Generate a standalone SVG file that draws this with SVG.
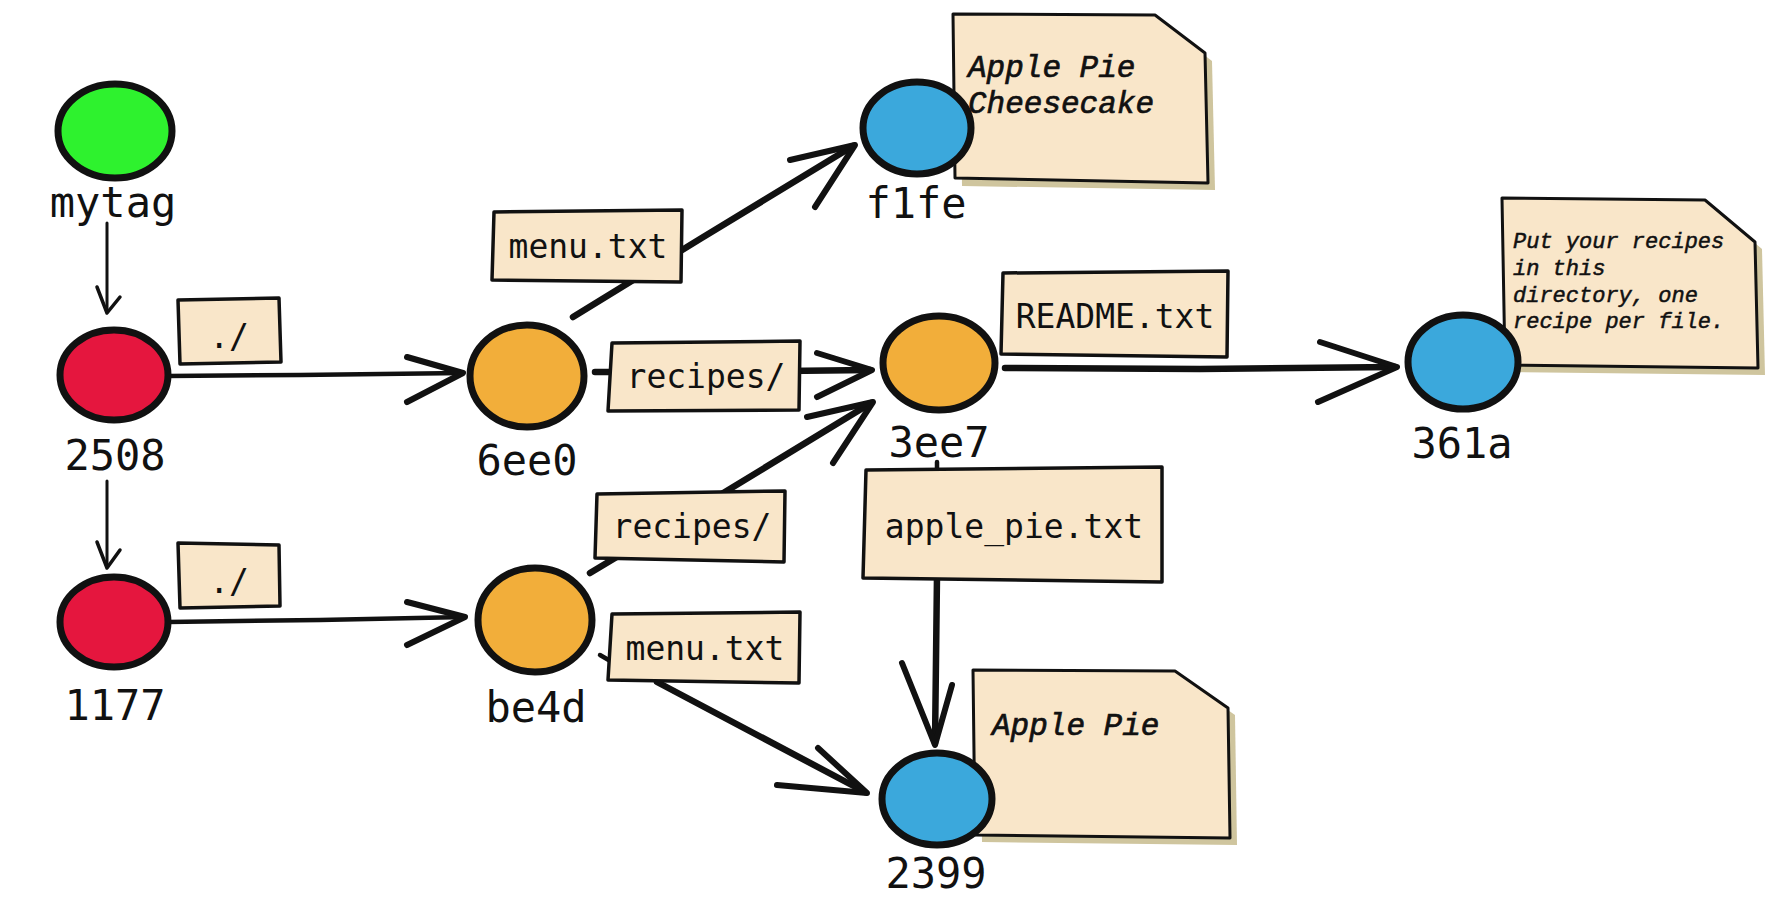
<svg xmlns="http://www.w3.org/2000/svg" width="1790" height="910" viewBox="0 0 1790 910">
<style>
.bg{fill:#ffffff}
.node{stroke:#111;stroke-width:7}
.green{fill:#2EF22E}
.red{fill:#E5163E}
.orange{fill:#F2AE3A}
.blue{fill:#3BA8DC}
.hash{font-family:"DejaVu Sans Mono","Liberation Mono",monospace;font-size:42px;fill:#111;text-anchor:middle}
.lbox{fill:#F9E6C9;stroke:#111;stroke-width:3.5;stroke-linejoin:round}
.ltext{font-family:"DejaVu Sans Mono","Liberation Mono",monospace;font-size:33px;fill:#111;text-anchor:middle}
.note{fill:#F9E6C9;stroke:#111;stroke-width:3;stroke-linejoin:round}
.shadow{fill:#CFC59E}
.ntext{font-family:"Liberation Mono","Courier New",monospace;font-style:italic;font-size:31px;fill:#111;stroke:#111;stroke-width:0.7}
.ntext.small{font-size:22px;stroke-width:0.5}
.edge{fill:none;stroke:#111;stroke-linecap:round;stroke-linejoin:round}
.thin{stroke-width:3}
.mid{stroke-width:4.5}
.thick{stroke-width:6.5}
.head{fill:none;stroke:#111;stroke-width:6;stroke-linecap:round;stroke-linejoin:round}
.head.thin{stroke-width:3.5}
</style>
<rect class="bg" x="0" y="0" width="1790" height="910"/>

<g id="connectors">
  <path class="edge thin" d="M107,223 L107,312"/>
  <path class="head thin" d="M97,287 L107,313 L120,297"/>
  <path class="edge thin" d="M107,481 L107,566"/>
  <path class="head thin" d="M97,542 L107,568 L120,550"/>
  <path class="edge mid" d="M168,376 L300,375 L463,373"/>
  <path class="head" d="M407,357 L463,373 L407,402"/>
  <path class="edge mid" d="M168,622 L320,620 L465,617"/>
  <path class="head" d="M407,602 L465,617 L407,645"/>
  <path class="edge thick" d="M573,317 L700,239 L853,146"/>
  <path class="head" d="M790,160 L855,145 L815,207"/>
  <path class="edge thick" d="M595,372 L700,372 L870,370"/>
  <path class="head" d="M817,353 L872,370 L817,397"/>
  <path class="edge thick" d="M590,573 L720,495 L871,403"/>
  <path class="head" d="M807,417 L873,402 L833,463"/>
  <path class="edge thick" d="M1005,368 L1200,369 L1395,367"/>
  <path class="head" d="M1320,342 L1397,367 L1318,402"/>
  <path class="edge mid" d="M937,462 L937,475"/>
  <path class="edge thick" d="M937,575 L936,660 L935,743"/>
  <path class="head" d="M902,663 L935,745 L952,685"/>
  <path class="edge mid" d="M600,655 L612,662"/>
  <path class="edge thick" d="M657,682 L865,792"/>
  <path class="head" d="M777,785 L867,793 L818,748"/>

  <g id="label-dot-1">
    <polygon class="lbox" points="178,300 279,298 281,362 180,364"/>
    <text class="ltext" x="229" y="348">./</text>
  </g>
  <g id="label-dot-2">
    <polygon class="lbox" points="178,543 279,545 280,606 180,608"/>
    <text class="ltext" x="229" y="593">./</text>
  </g>
  <g id="label-menu-1">
    <polygon class="lbox" points="494,212 682,210 681,282 492,280"/>
    <text class="ltext" x="588" y="258">menu.txt</text>
  </g>
  <g id="label-recipes-1">
    <polygon class="lbox" points="612,343 800,341 799,410 608,411"/>
    <text class="ltext" x="706" y="388">recipes/</text>
  </g>
  <g id="label-recipes-2">
    <polygon class="lbox" points="597,494 785,491 784,562 595,558"/>
    <text class="ltext" x="692" y="538">recipes/</text>
  </g>
  <g id="label-menu-2">
    <polygon class="lbox" points="612,614 800,612 799,683 608,680"/>
    <text class="ltext" x="705" y="660">menu.txt</text>
  </g>
  <g id="label-readme">
    <polygon class="lbox" points="1003,273 1228,271 1227,357 1001,354"/>
    <text class="ltext" x="1115" y="328">README.txt</text>
  </g>
  <g id="label-applepie">
    <polygon class="lbox" points="866,470 1162,467 1162,582 863,578"/>
    <text class="ltext" x="1014" y="538">apple_pie.txt</text>
  </g>
</g>

<g id="node-mytag">
  <ellipse class="node green" cx="115" cy="131" rx="57" ry="47"/>
  <text class="hash" x="113" y="217">mytag</text>
</g>
<g id="node-2508">
  <ellipse class="node red" cx="114" cy="375" rx="54" ry="45"/>
  <text class="hash" x="115" y="470">2508</text>
</g>
<g id="node-1177">
  <ellipse class="node red" cx="114" cy="622" rx="54" ry="45"/>
  <text class="hash" x="115" y="720">1177</text>
</g>
<g id="node-6ee0">
  <ellipse class="node orange" cx="527" cy="376" rx="57" ry="51"/>
  <text class="hash" x="527" y="475">6ee0</text>
</g>
<g id="node-be4d">
  <ellipse class="node orange" cx="535" cy="620" rx="57" ry="52"/>
  <text class="hash" x="536" y="722">be4d</text>
</g>
<g id="node-3ee7">
  <ellipse class="node orange" cx="939" cy="363" rx="56" ry="47"/>
  <text class="hash" x="939" y="457">3ee7</text>
</g>
<g id="node-f1fe">
  <polygon class="shadow" points="960,22 1162,23 1212,61 1215,190 962,186"/>
  <polygon class="note" points="953,14 1155,15 1205,53 1208,183 955,178"/>
  <text class="ntext" x="968" y="77">Apple Pie</text>
  <text class="ntext" x="968" y="113">Cheesecake</text>
  <ellipse class="node blue" cx="917" cy="128" rx="54" ry="46"/>
  <text class="hash" x="916" y="218">f1fe</text>
</g>
<g id="node-361a">
  <polygon class="shadow" points="1509,205 1712,207 1762,249 1765,375 1512,372"/>
  <polygon class="note" points="1502,198 1705,200 1755,242 1758,368 1505,365"/>
  <text class="ntext small" x="1513" y="248">Put your recipes</text>
  <text class="ntext small" x="1513" y="275">in this</text>
  <text class="ntext small" x="1513" y="302">directory, one</text>
  <text class="ntext small" x="1513" y="328">recipe per file.</text>
  <ellipse class="node blue" cx="1463" cy="362" rx="55" ry="47"/>
  <text class="hash" x="1462" y="458">361a</text>
</g>
<g id="node-2399">
  <polygon class="shadow" points="980,677 1182,678 1235,715 1237,845 982,842"/>
  <polygon class="note" points="973,670 1175,671 1228,708 1230,838 975,835"/>
  <text class="ntext" x="992" y="735">Apple Pie</text>
  <ellipse class="node blue" cx="937" cy="799" rx="55" ry="46"/>
  <text class="hash" x="936" y="888">2399</text>
</g>
</svg>
